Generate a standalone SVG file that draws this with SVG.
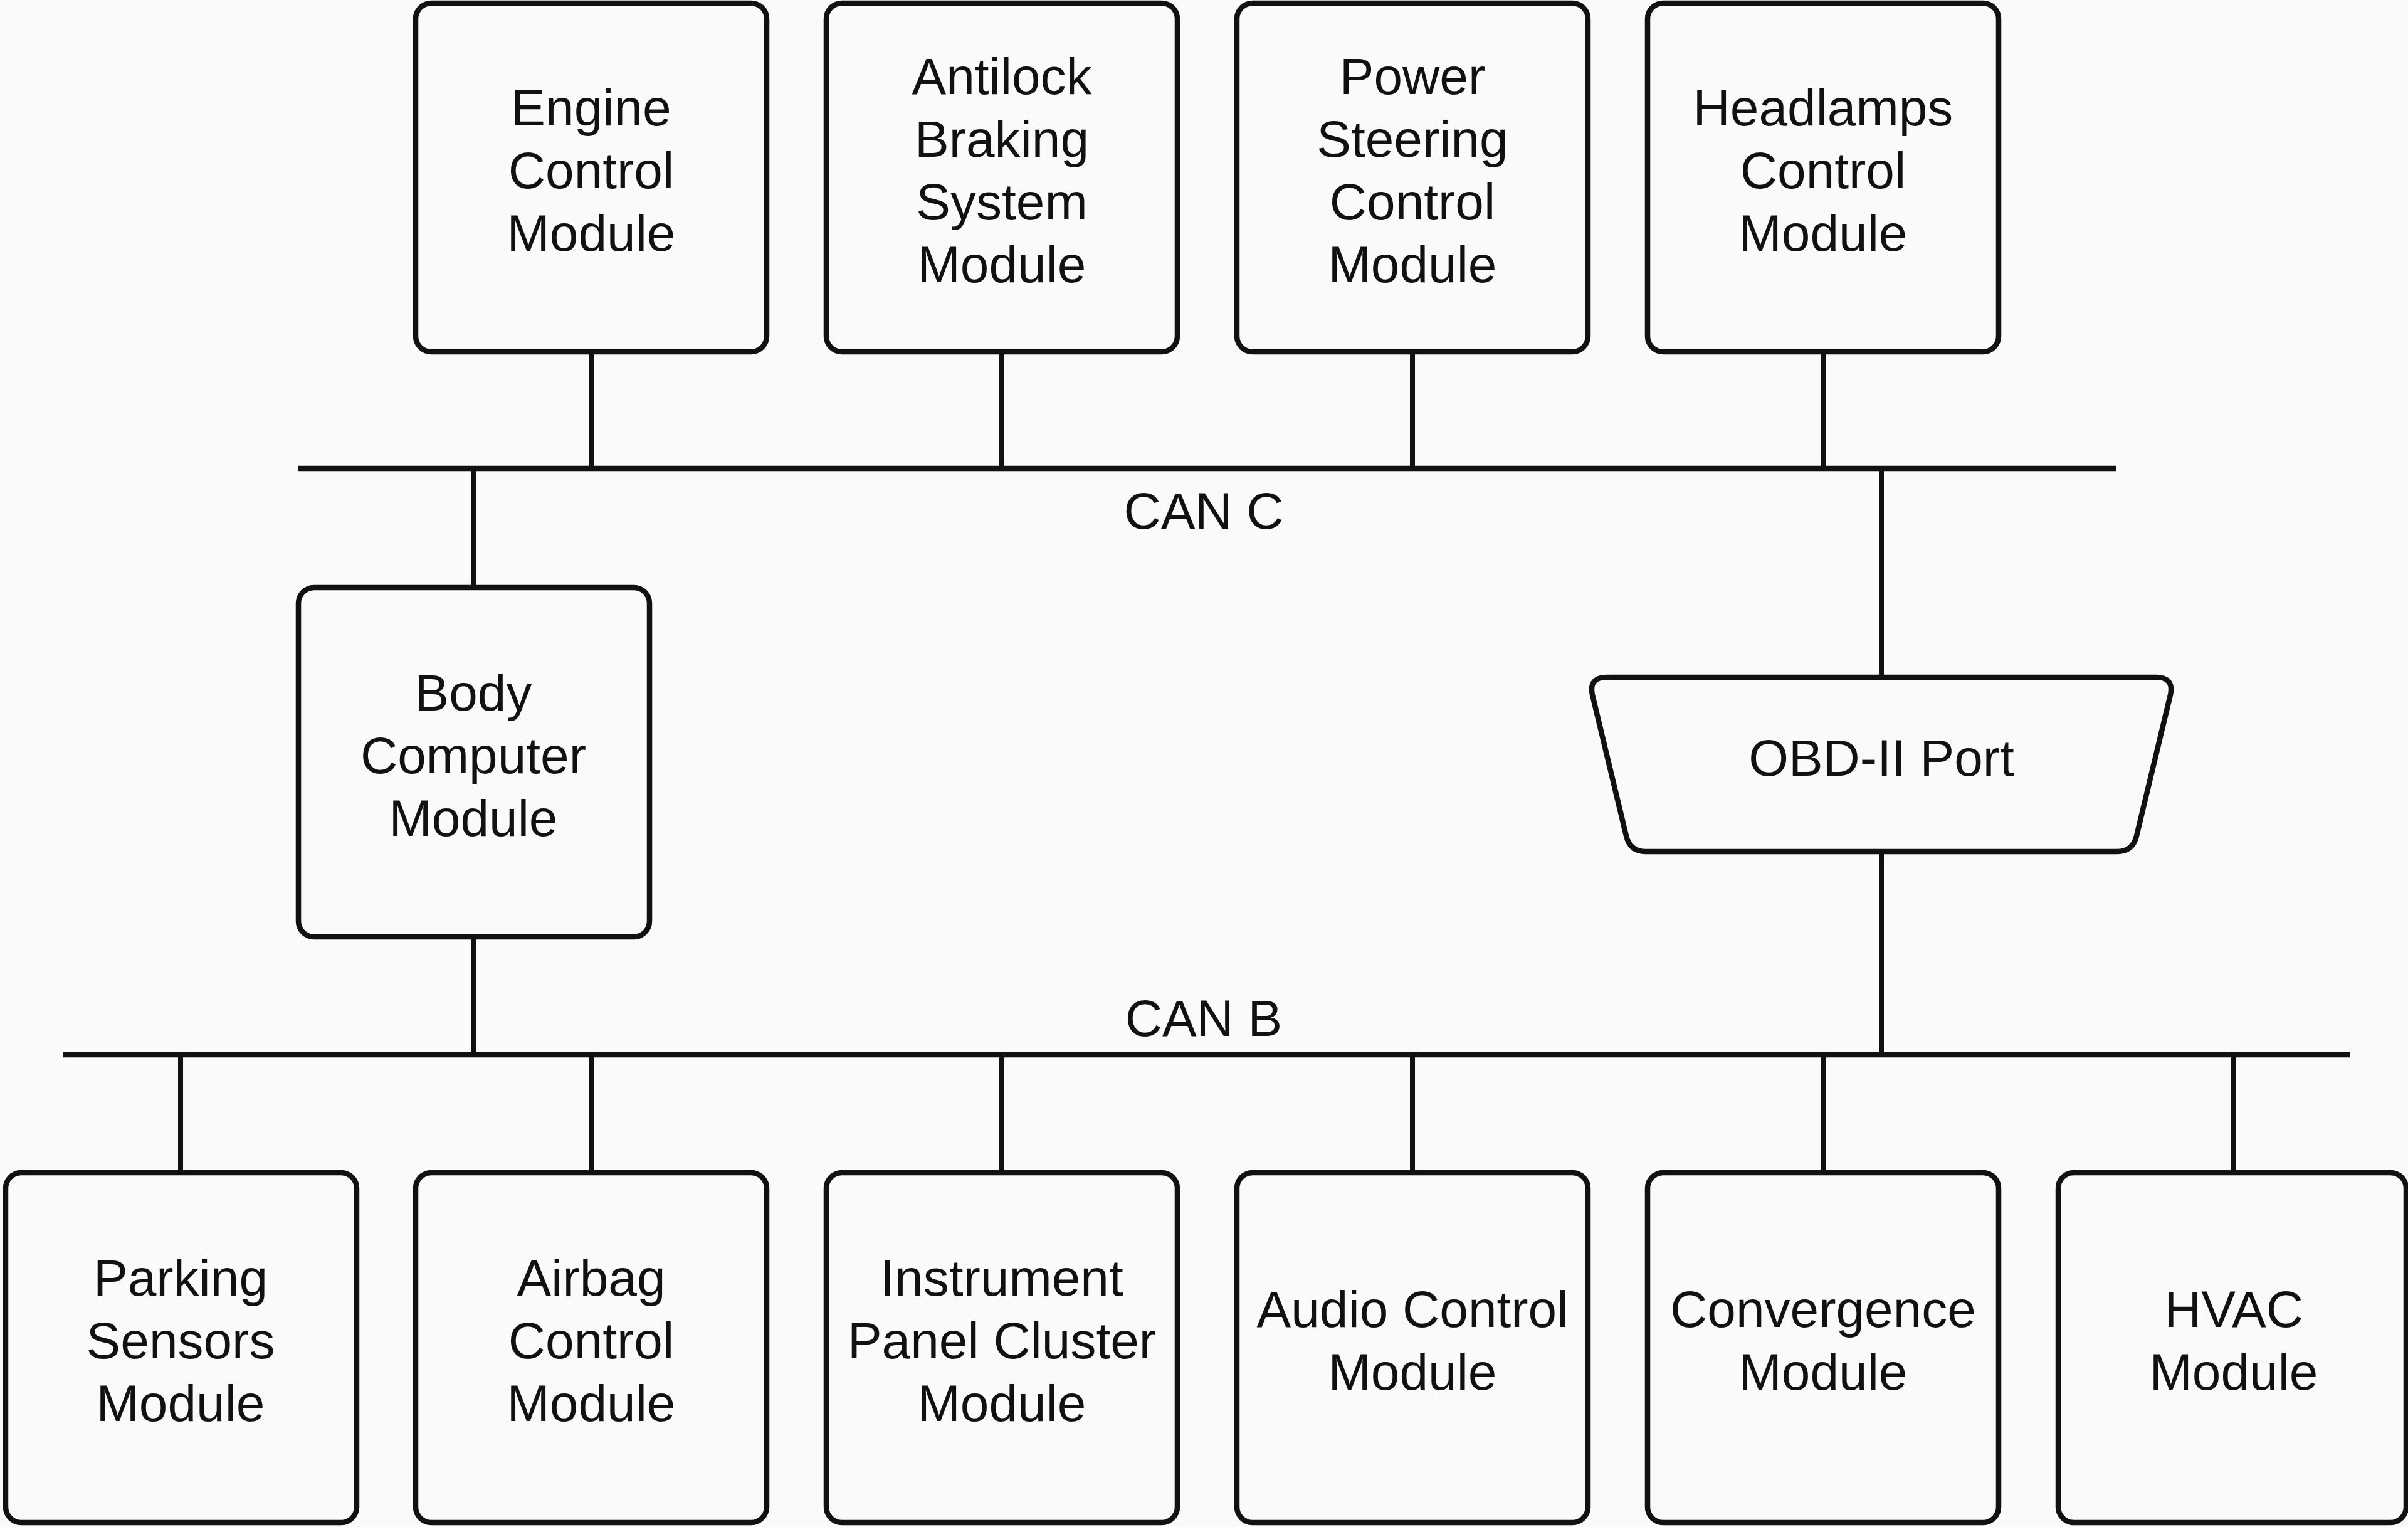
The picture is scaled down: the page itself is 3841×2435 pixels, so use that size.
<svg xmlns="http://www.w3.org/2000/svg" width="3841" height="2435" viewBox="0 0 3841 2435">
  <style>
    .box { fill: #fafafa; stroke: #111; stroke-width: 8.5; }
    .bus { stroke: #111; stroke-width: 8.5; fill: none; }
    .tap { stroke: #111; stroke-width: 8; fill: none; }
    text { font-family: "Liberation Sans", Arial, sans-serif; font-size: 82px; fill: #111; text-anchor: middle; }
  </style>
  <rect width="3841" height="2435" fill="#fafafa"/>

  <!-- buses and stubs -->
  <g id="connectors">
    <line class="bus" x1="475" y1="747" x2="3376" y2="747"/>
    <line class="bus" x1="101" y1="1682" x2="3749" y2="1682"/>
    <!-- CAN C stubs -->
    <line class="tap" x1="943" y1="561" x2="943" y2="747"/>
    <line class="tap" x1="1598" y1="561" x2="1598" y2="747"/>
    <line class="tap" x1="2253" y1="561" x2="2253" y2="747"/>
    <line class="tap" x1="2908" y1="561" x2="2908" y2="747"/>
    <line class="tap" x1="755" y1="747" x2="755" y2="937"/>
    <line class="tap" x1="3001" y1="747" x2="3001" y2="1080"/>
    <!-- CAN B stubs -->
    <line class="tap" x1="755" y1="1494" x2="755" y2="1682"/>
    <line class="tap" x1="3001" y1="1358" x2="3001" y2="1682"/>
    <line class="tap" x1="288" y1="1682" x2="288" y2="1870"/>
    <line class="tap" x1="943" y1="1682" x2="943" y2="1870"/>
    <line class="tap" x1="1598" y1="1682" x2="1598" y2="1870"/>
    <line class="tap" x1="2253" y1="1682" x2="2253" y2="1870"/>
    <line class="tap" x1="2908" y1="1682" x2="2908" y2="1870"/>
    <line class="tap" x1="3563" y1="1682" x2="3563" y2="1870"/>
    <text x="1920" y="843">CAN C</text>
    <text x="1920" y="1652">CAN B</text>
  </g>

  <!-- CAN C modules -->
  <g id="engine-control">
    <rect class="box" x="663" y="5" width="560" height="556" rx="25"/>
    <text x="943" y="200">Engine</text>
    <text x="943" y="300">Control</text>
    <text x="943" y="400">Module</text>
  </g>
  <g id="antilock-braking">
    <rect class="box" x="1318" y="5" width="560" height="556" rx="25"/>
    <text x="1598" y="150">Antilock</text>
    <text x="1598" y="250">Braking</text>
    <text x="1598" y="350">System</text>
    <text x="1598" y="450">Module</text>
  </g>
  <g id="power-steering">
    <rect class="box" x="1973" y="5" width="560" height="556" rx="25"/>
    <text x="2253" y="150">Power</text>
    <text x="2253" y="250">Steering</text>
    <text x="2253" y="350">Control</text>
    <text x="2253" y="450">Module</text>
  </g>
  <g id="headlamps-control">
    <rect class="box" x="2628" y="5" width="560" height="556" rx="25"/>
    <text x="2908" y="200">Headlamps</text>
    <text x="2908" y="300">Control</text>
    <text x="2908" y="400">Module</text>
  </g>

  <!-- gateway between buses -->
  <g id="body-computer">
    <rect class="box" x="476" y="937" width="560" height="557" rx="25"/>
    <text x="755" y="1133">Body</text>
    <text x="755" y="1233">Computer</text>
    <text x="755" y="1333">Module</text>
  </g>

  <!-- diagnostic connector -->
  <g id="obd-port">
    <path class="box" d="M 2563 1080 L 3439 1080 Q 3468 1080 3462 1108 L 3408 1333 Q 3402 1358 3377 1358 L 2625 1358 Q 2600 1358 2594 1333 L 2540 1108 Q 2534 1080 2563 1080 Z"/>
    <text x="3001" y="1237">OBD-II Port</text>
  </g>

  <!-- CAN B modules -->
  <g id="parking-sensors">
    <rect class="box" x="9" y="1870" width="560" height="558" rx="25"/>
    <text x="288" y="2066">Parking</text>
    <text x="288" y="2166">Sensors</text>
    <text x="288" y="2266">Module</text>
  </g>
  <g id="airbag-control">
    <rect class="box" x="663" y="1870" width="560" height="558" rx="25"/>
    <text x="943" y="2066">Airbag</text>
    <text x="943" y="2166">Control</text>
    <text x="943" y="2266">Module</text>
  </g>
  <g id="instrument-cluster">
    <rect class="box" x="1318" y="1870" width="560" height="558" rx="25"/>
    <text x="1598" y="2066">Instrument</text>
    <text x="1598" y="2166">Panel Cluster</text>
    <text x="1598" y="2266">Module</text>
  </g>
  <g id="audio-control">
    <rect class="box" x="1973" y="1870" width="560" height="558" rx="25"/>
    <text x="2253" y="2116">Audio Control</text>
    <text x="2253" y="2216">Module</text>
  </g>
  <g id="convergence">
    <rect class="box" x="2628" y="1870" width="560" height="558" rx="25"/>
    <text x="2908" y="2116">Convergence</text>
    <text x="2908" y="2216">Module</text>
  </g>
  <g id="hvac">
    <rect class="box" x="3283" y="1870" width="555" height="558" rx="25"/>
    <text x="3563" y="2116">HVAC</text>
    <text x="3563" y="2216">Module</text>
  </g>
</svg>
